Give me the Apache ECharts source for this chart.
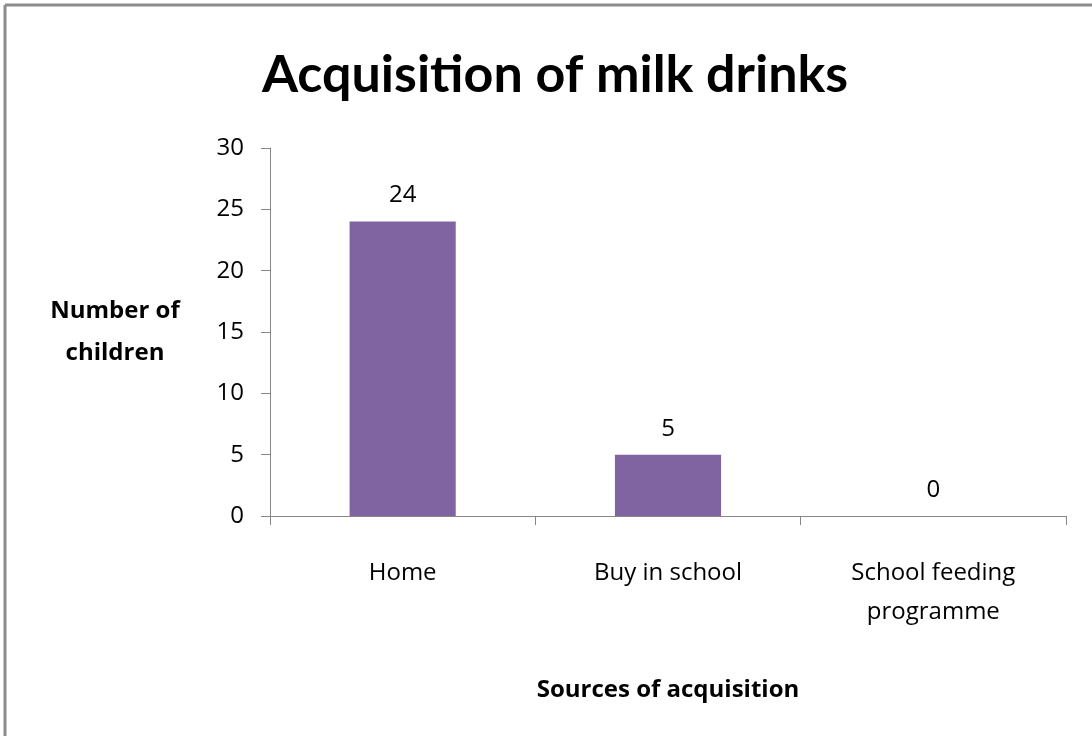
<!DOCTYPE html>
<html>
<head>
<meta charset="utf-8">
<script src="https://cdn.jsdelivr.net/npm/echarts@6/dist/echarts.min.js"></script>
<style>
  html, body { margin: 0; padding: 0; background: #fff; }
  #chart { width: 1092px; height: 736px; }
</style>
</head>
<body>
<div id="chart"></div>
<script>
// data
const categories = ['Home', 'Buy in school', 'School feeding\nprogramme'];
const children = [24, 5, 0];
const yTicks = { min: 0, max: 30, interval: 5 };

const axisGray = '#868686';
const textFont = '"Open Sans", sans-serif';

const chart = echarts.init(document.getElementById('chart'));

const option = {
  backgroundColor: '#ffffff',
  animation: false,
  title: {
    text: 'Acquisition of milk drinks',
    left: 550,
    textAlign: 'center',
    top: 44,
    textStyle: {
      fontFamily: 'Lato, sans-serif',
      fontWeight: 'bold',
      fontSize: 52,
      color: '#000',
    },
  },
  grid: {
    left: 270,
    right: 26,
    top: 148,
    bottom: 220,
  },
  xAxis: {
    type: 'category',
    data: categories,
    name: 'Sources of acquisition',
    nameLocation: 'middle',
    nameGap: 162,
    nameTextStyle: {
      fontFamily: textFont,
      fontWeight: 'bold',
      fontSize: 24,
      color: '#000',
    },
    axisLine: { lineStyle: { color: axisGray, width: 1 } },
    axisTick: { show: true, length: 9, alignWithLabel: false, lineStyle: { color: axisGray } },
    axisLabel: {
      fontFamily: textFont,
      fontSize: 24,
      color: '#000',
      lineHeight: 39,
      margin: 38,
      interval: 0,
    },
  },
  yAxis: {
    type: 'value',
    min: yTicks.min,
    max: yTicks.max,
    interval: yTicks.interval,
    name: 'Number of\nchildren',
    nameLocation: 'middle',
    nameRotate: 0,
    nameGap: 155,
    nameTextStyle: {
      fontFamily: textFont,
      fontWeight: 'bold',
      fontSize: 24,
      color: '#000',
      lineHeight: 42,
      align: 'center',
    },
    axisLine: { show: true, lineStyle: { color: axisGray, width: 1 } },
    axisTick: { show: true, length: 9, lineStyle: { color: axisGray } },
    splitLine: { show: false },
    axisLabel: {
      fontFamily: textFont,
      fontSize: 24,
      color: '#000',
      margin: 26,
    },
  },
  series: [
    {
      name: 'Number of children',
      type: 'bar',
      data: children,
      barWidth: '40%',
      itemStyle: { color: '#8064A2' },
      label: {
        show: true,
        position: 'top',
        distance: 14,
        fontFamily: textFont,
        fontSize: 24,
        color: '#000',
      },
    },
  ],
  graphic: [
    // frame of the original image (only top and left edges visible)
    {
      type: 'line',
      shape: { x1: 5, y1: 5, x2: 1092, y2: 5 },
      style: { stroke: '#8c8c8c', lineWidth: 3 },
    },
    {
      type: 'line',
      shape: { x1: 5, y1: 5, x2: 5, y2: 736 },
      style: { stroke: '#8c8c8c', lineWidth: 3 },
    },
  ],
};

chart.setOption(option);
window.addEventListener('resize', () => chart.resize());
</script>
</body>
</html>
